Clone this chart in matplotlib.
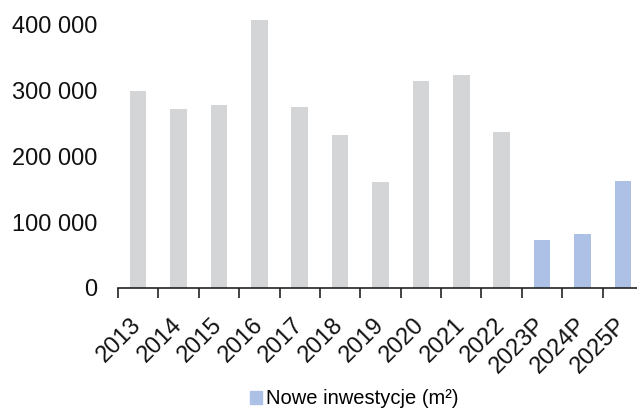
import numpy as np
import matplotlib
matplotlib.use('Agg')
import matplotlib.pyplot as plt
from matplotlib.patches import Patch
from matplotlib.ticker import FuncFormatter

plt.rcParams['font.family'] = ['Liberation Sans', 'DejaVu Sans']

lata = ['2013', '2014', '2015', '2016', '2017', '2018', '2019',
        '2020', '2021', '2022', '2023P', '2024P', '2025P']
wartosci = [298000, 271000, 277000, 406000, 274000, 232000, 161000,
            314000, 323000, 236000, 73000, 82000, 162000]
prognoza = [False] * 10 + [True] * 3

szary = '#d4d5d7'
niebieski = '#adc1e7'
kolory = [niebieski if p else szary for p in prognoza]

fig = plt.figure(figsize=(6.37, 4.09), dpi=100)
ax = fig.add_axes([118 / 637, 121 / 409, 525 / 637, 277 / 409])

x = np.arange(len(lata))
ax.bar(x, wartosci, width=0.41, color=kolory)

ax.set_xlim(-0.5, len(lata) - 0.5)
ax.set_ylim(0, 420000)
ax.set_yticks([0, 100000, 200000, 300000, 400000])
ax.yaxis.set_major_formatter(FuncFormatter(lambda v, p: f'{int(v):,}'.replace(',', ' ')))
ax.tick_params(axis='y', length=0, pad=15, labelsize=17, colors='#111111')

ax.set_xticks(x)
ax.set_xticklabels(lata, rotation=45, ha='right', va='center', rotation_mode='anchor')
ax.set_xticks(np.arange(-0.5, len(lata)), minor=True)
ax.tick_params(axis='x', which='major', length=0, pad=24, labelsize=17, colors='#111111')
ax.tick_params(axis='x', which='minor', length=7, width=1.2, color='#222222')

for s in ['top', 'right', 'left']:
    ax.spines[s].set_visible(False)
ax.spines['bottom'].set_color('#222222')
ax.spines['bottom'].set_linewidth(1.2)

fig.legend(handles=[Patch(color=niebieski, label='Nowe inwestycje (m²)')],
           loc='center', bbox_to_anchor=(354 / 637, 1 - 399 / 409),
           frameon=False, fontsize=14.5, handlelength=0.6, handleheight=0.6,
           handletextpad=0.2)

fig.savefig('out.png', dpi=100)
